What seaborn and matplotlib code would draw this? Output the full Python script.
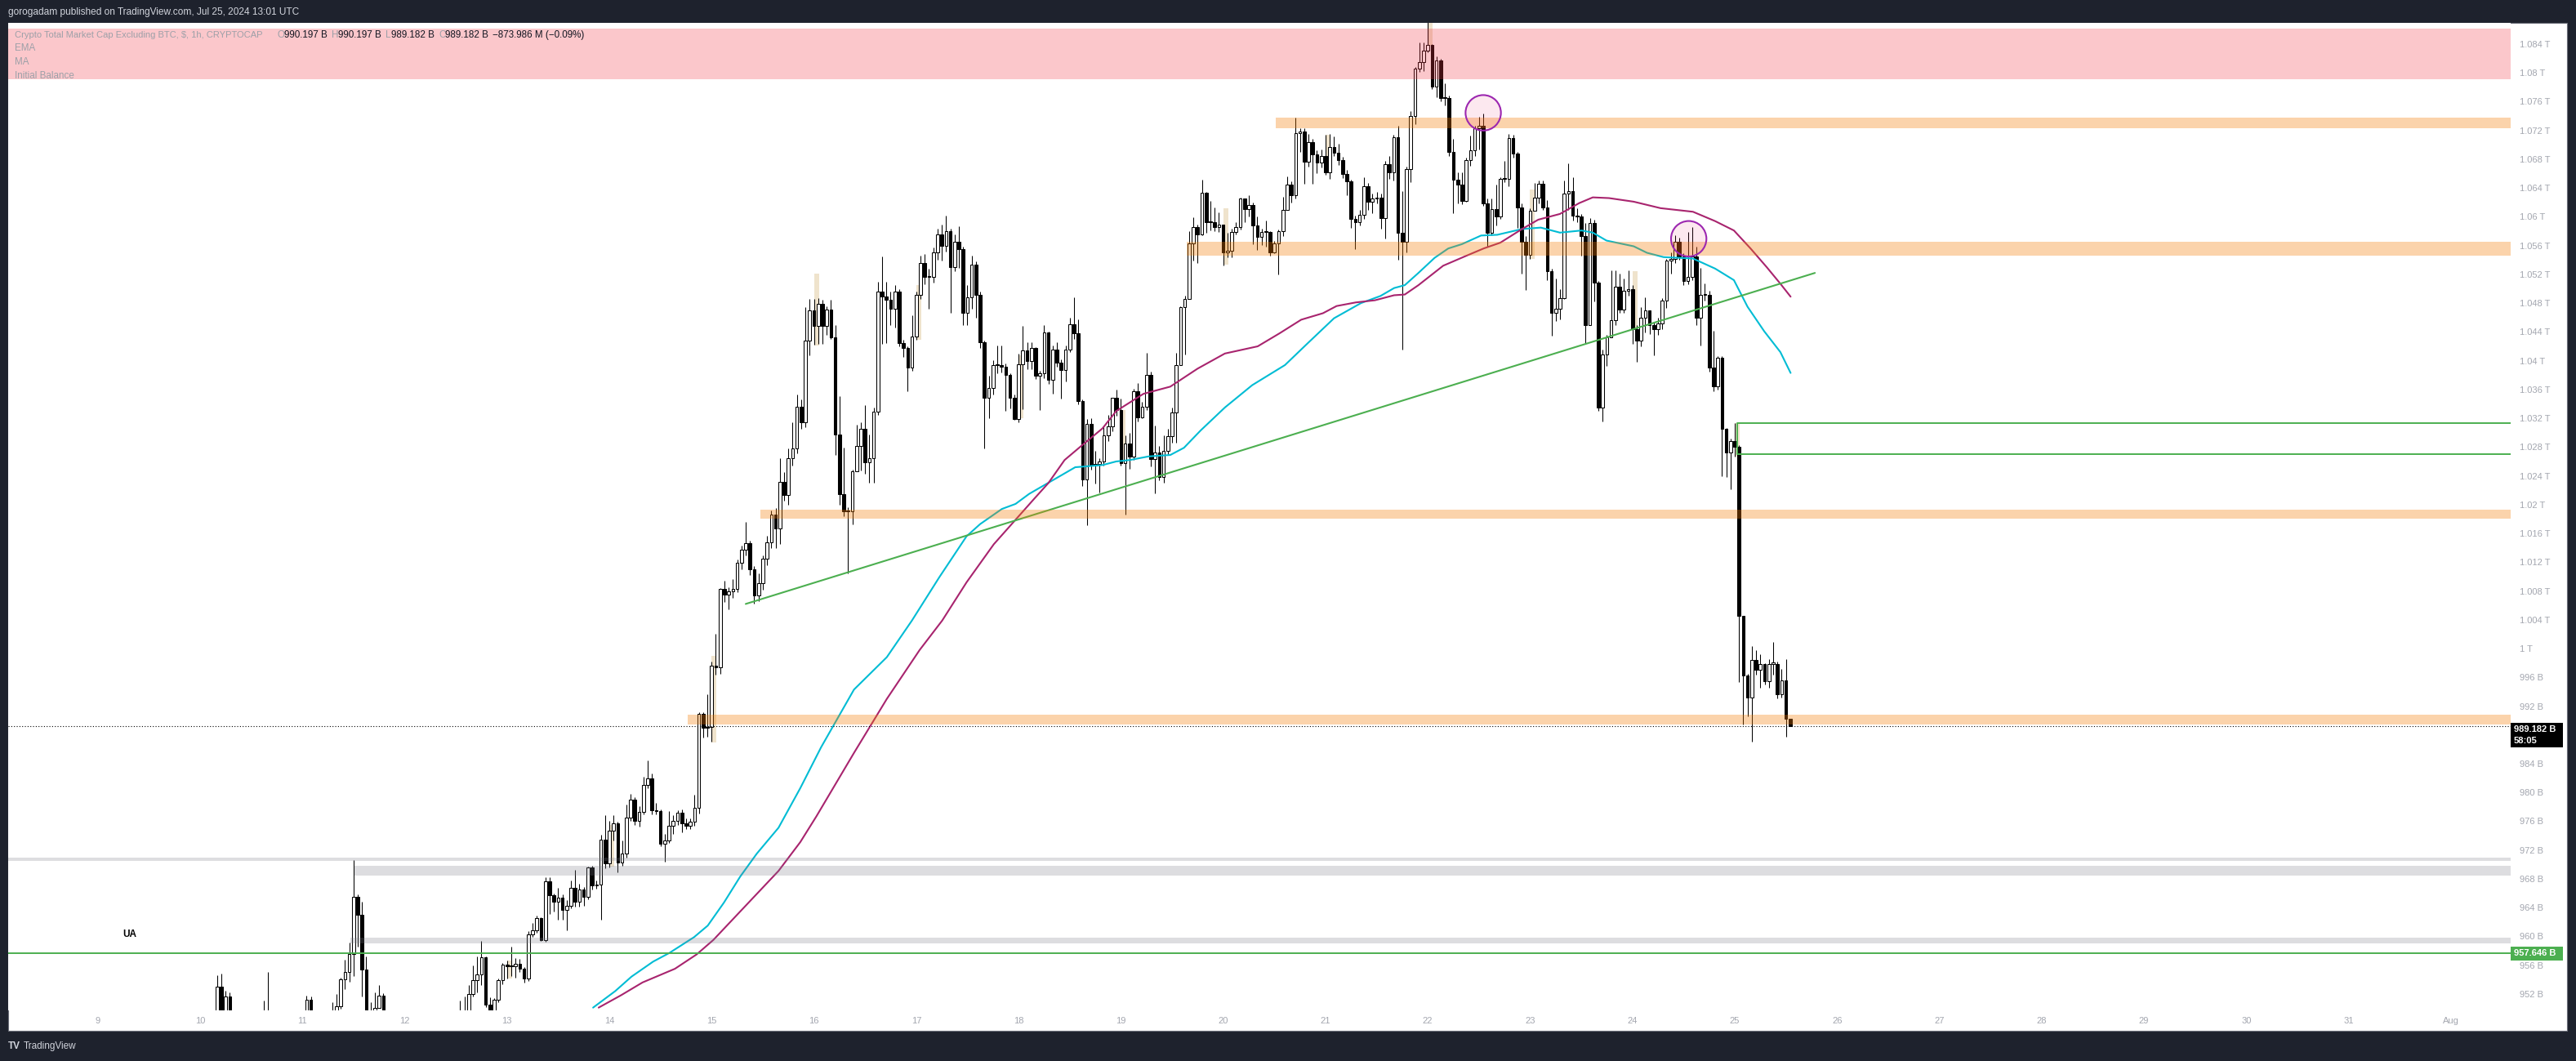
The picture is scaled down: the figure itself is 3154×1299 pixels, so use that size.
import matplotlib
matplotlib.use("Agg")
import numpy as np
import matplotlib.pyplot as plt
from matplotlib.patches import Rectangle, Ellipse
import seaborn as sns

# hourly candles, index = hours since Jul 10 00:00; open = previous close
first_open = 947.0
closes = [
    947.5, 946.8, 947.9, 948.0, 953.0, 948.5, 951.7, 948.0, 947.2, 946.5, 947.3, 946.8, 946.0, 946.9, 947.4, 948.2, 947.6, 946.9, 946.1, 945.7, 946.5, 947.2, 946.8, 947.5,
    948.3, 951.2, 948.0, 947.1, 946.4, 947.0, 947.8, 948.2, 950.3, 954.0, 955.1, 957.6, 965.5, 963.0, 955.4, 948.5, 947.6, 950.1, 951.8, 948.0, 947.3, 946.6, 947.5, 946.9,
    946.2, 945.5, 946.3, 947.0, 946.4, 945.8, 946.7, 947.5, 946.9, 947.8, 948.4, 947.9, 948.6, 948.9, 949.2, 952.0, 953.9, 954.7, 957.1, 950.5, 949.4, 951.2, 953.9, 956.1,
    955.8, 955.9, 956.2, 955.5, 954.2, 960.3, 960.8, 962.5, 959.5, 967.7, 965.7, 964.8, 965.4, 963.7, 964.3, 966.8, 964.8, 966.5, 965.5, 969.6, 967.1, 967.2, 973.4, 970.2,
    974.7, 975.7, 970.3, 971.5, 976.5, 979.0, 976.1, 977.3, 981.1, 981.9, 977.5, 977.4, 972.9, 973.3, 975.4, 976.1, 977.2, 975.7, 975.4, 975.9, 977.9, 990.9, 989.0, 989.1,
    997.6, 997.4, 1008.3, 1007.5, 1007.9, 1008.3, 1011.9, 1013.7, 1014.6, 1011.0, 1007.4, 1009.1, 1012.5, 1014.8, 1018.6, 1016.7, 1023.2, 1021.3, 1026.5, 1027.8, 1033.6, 1031.4, 1042.8, 1047.0,
    1044.8, 1047.9, 1044.8, 1047.1, 1043.2, 1029.7, 1021.5, 1019.1, 1019.1, 1024.6, 1028.1, 1030.5, 1025.9, 1026.4, 1032.9, 1049.6, 1048.9, 1048.5, 1047.2, 1049.6, 1042.5, 1041.8, 1039.1, 1043.4,
    1049.1, 1053.6, 1051.6, 1051.6, 1055.0, 1057.5, 1056.0, 1058.0, 1053.0, 1056.5, 1055.5, 1046.7, 1048.8, 1053.4, 1049.2, 1042.6, 1034.9, 1036.2, 1039.4, 1039.4, 1039.2, 1038.0, 1034.8, 1031.9,
    1039.5, 1041.4, 1040.0, 1041.8, 1037.9, 1038.3, 1043.9, 1037.3, 1041.5, 1039.7, 1038.7, 1041.6, 1045.1, 1043.8, 1034.4, 1023.5, 1031.2, 1025.5, 1025.7, 1026.0, 1029.6, 1030.9, 1034.9, 1033.1,
    1025.8, 1028.5, 1026.7, 1035.8, 1032.1, 1033.6, 1038.0, 1026.3, 1027.2, 1023.8, 1027.5, 1029.5, 1032.8, 1039.4, 1047.5, 1048.6, 1056.3, 1058.6, 1057.5, 1063.3, 1059.2, 1059.2, 1058.6, 1058.9,
    1055.1, 1055.3, 1057.9, 1058.6, 1062.6, 1061.1, 1061.6, 1058.8, 1057.2, 1057.9, 1057.9, 1055.1, 1056.3, 1058.0, 1061.0, 1064.5, 1063.0, 1071.6, 1071.9, 1067.6, 1070.4, 1068.7, 1067.5, 1068.5,
    1066.2, 1069.7, 1068.9, 1067.9, 1066.0, 1064.9, 1059.7, 1059.3, 1060.3, 1064.3, 1062.1, 1062.5, 1062.7, 1059.8, 1067.3, 1066.2, 1071.1, 1057.8, 1056.5, 1066.6, 1074.0, 1080.6, 1081.5, 1083.1,
    1083.9, 1078.1, 1081.7, 1076.5, 1076.5, 1069.0, 1065.1, 1064.5, 1062.2, 1067.9, 1069.2, 1072.3, 1072.6, 1061.9, 1057.8, 1061.1, 1060.0, 1065.3, 1065.3, 1071.0, 1068.8, 1061.3, 1056.5, 1054.7,
    1060.8, 1062.7, 1064.6, 1061.3, 1052.4, 1046.6, 1047.2, 1048.7, 1063.2, 1063.6, 1060.2, 1060.0, 1057.3, 1045.0, 1059.1, 1050.9, 1033.5, 1040.9, 1043.2, 1045.6, 1050.3, 1047.1, 1049.7, 1050.0,
    1044.4, 1042.8, 1046.0, 1047.0, 1044.9, 1044.4, 1045.2, 1048.4, 1053.9, 1054.1, 1056.5, 1054.5, 1051.1, 1051.7, 1054.5, 1046.0, 1049.1, 1049.1, 1039.1, 1036.4, 1040.4, 1030.5, 1027.2, 1028.8,
    1028.0, 1004.6, 996.3, 993.2, 998.4, 997.1, 997.8, 995.5, 997.9, 997.9, 993.7, 995.6, 990.2, 989.182,
]
highs = [
    948.6, 948.0, 948.5, 949.0, 954.6, 954.8, 952.4, 952.2, 948.6, 947.8, 948.0, 947.9, 947.2, 947.5, 948.3, 951.1, 955.0, 948.4, 947.4, 946.8, 947.2, 948.0, 947.9, 948.2,
    949.0, 951.8, 951.7, 948.6, 947.6, 947.9, 948.7, 950.9, 952.0, 954.3, 956.8, 959.1, 970.6, 965.8, 964.8, 957.2, 950.8, 952.2, 953.2, 952.1, 948.8, 948.0, 948.3, 948.1,
    947.5, 946.7, 947.0, 947.8, 947.5, 946.9, 947.3, 948.4, 948.0, 948.6, 949.2, 949.0, 949.4, 951.1, 951.6, 953.2, 956.0, 957.2, 959.4, 957.2, 951.5, 951.4, 954.1, 956.3,
    956.6, 958.6, 957.0, 956.9, 955.7, 960.7, 961.9, 962.9, 962.7, 968.2, 968.2, 965.9, 966.8, 965.8, 965.0, 967.8, 969.2, 967.3, 966.9, 969.7, 969.8, 967.8, 974.1, 976.9,
    976.1, 976.8, 975.9, 973.3, 978.3, 979.8, 979.4, 978.1, 982.2, 984.5, 982.6, 978.6, 977.6, 974.2, 977.4, 976.9, 977.5, 977.6, 976.4, 976.4, 979.7, 991.1, 991.2, 993.6,
    998.2, 1002.1, 1008.4, 1009.4, 1008.5, 1009.6, 1012.4, 1014.3, 1017.6, 1015.0, 1011.5, 1010.4, 1013.0, 1015.7, 1019.2, 1019.5, 1026.4, 1024.5, 1027.8, 1031.5, 1035.3, 1034.6, 1047.4, 1048.6,
    1048.6, 1048.7, 1048.5, 1047.6, 1048.5, 1044.9, 1035.1, 1027.9, 1019.6, 1024.9, 1031.1, 1031.5, 1033.8, 1029.7, 1033.5, 1051.0, 1054.5, 1051.0, 1049.6, 1050.5, 1050.0, 1042.9, 1042.0, 1046.3,
    1049.6, 1054.6, 1054.8, 1052.8, 1055.7, 1058.4, 1058.9, 1060.2, 1058.4, 1057.6, 1058.7, 1055.8, 1050.5, 1054.6, 1053.8, 1049.6, 1042.8, 1037.9, 1040.1, 1042.1, 1042.1, 1039.6, 1038.3, 1035.3,
    1041.0, 1044.8, 1042.6, 1042.6, 1041.9, 1038.6, 1045.0, 1044.1, 1042.1, 1042.6, 1040.2, 1042.1, 1046.0, 1048.8, 1045.8, 1034.6, 1031.9, 1032.0, 1027.5, 1026.5, 1030.9, 1032.5, 1034.9, 1036.0,
    1034.7, 1029.6, 1030.0, 1036.1, 1036.9, 1034.3, 1041.1, 1038.5, 1031.0, 1028.2, 1029.6, 1030.5, 1033.5, 1041.1, 1047.6, 1049.0, 1058.0, 1059.9, 1058.9, 1065.2, 1063.4, 1062.2, 1061.3, 1060.6,
    1058.7, 1057.8, 1058.3, 1059.3, 1062.7, 1062.6, 1063.0, 1062.0, 1060.0, 1058.4, 1059.5, 1058.0, 1056.6, 1058.2, 1062.8, 1065.6, 1064.9, 1073.8, 1072.3, 1072.3, 1071.5, 1070.8, 1069.2, 1069.3,
    1071.4, 1071.5, 1071.2, 1070.2, 1068.3, 1066.5, 1065.1, 1060.2, 1061.0, 1065.5, 1064.7, 1063.2, 1063.5, 1063.2, 1067.8, 1068.4, 1071.4, 1072.7, 1063.6, 1067.0, 1074.7, 1080.8, 1084.2, 1084.2,
    1087.2, 1084.0, 1082.3, 1082.0, 1078.5, 1076.9, 1070.8, 1066.2, 1066.2, 1068.2, 1071.3, 1072.7, 1073.9, 1074.4, 1062.6, 1062.6, 1064.5, 1065.5, 1067.8, 1071.5, 1071.4, 1069.0, 1061.9, 1057.3,
    1061.2, 1064.7, 1065.0, 1065.0, 1062.3, 1052.8, 1051.4, 1050.0, 1065.0, 1067.4, 1065.5, 1061.2, 1060.4, 1059.1, 1059.8, 1059.6, 1051.1, 1041.6, 1043.6, 1052.6, 1052.6, 1052.1, 1051.4, 1052.6,
    1050.5, 1044.9, 1047.4, 1048.8, 1047.0, 1045.3, 1046.0, 1048.7, 1054.2, 1055.0, 1057.4, 1057.1, 1054.9, 1057.9, 1058.6, 1055.9, 1052.9, 1050.7, 1049.7, 1044.2, 1040.6, 1040.6, 1030.6, 1029.2,
    1031.3, 1028.3, 1004.6, 996.5, 1000.3, 999.8, 999.2, 998.0, 998.5, 1000.9, 998.2, 997.2, 998.5, 990.197,
]
lows = [
    946.2, 945.9, 946.3, 947.0, 947.6, 947.9, 948.0, 947.5, 946.1, 945.6, 946.0, 945.8, 944.9, 945.5, 946.2, 947.0, 947.0, 946.0, 945.2, 944.6, 945.3, 946.0, 945.9, 946.4,
    947.0, 947.8, 947.2, 946.3, 945.5, 945.9, 946.6, 947.2, 947.8, 949.9, 952.7, 953.7, 954.5, 958.6, 951.6, 947.3, 946.5, 947.0, 950.1, 947.2, 946.4, 945.6, 946.2, 946.0,
    945.0, 944.4, 945.1, 945.9, 945.6, 944.8, 945.4, 946.3, 946.0, 946.5, 947.3, 947.0, 947.4, 947.9, 948.0, 948.8, 951.6, 952.2, 953.2, 950.2, 948.3, 949.0, 950.8, 953.3,
    954.1, 954.5, 954.3, 955.1, 953.6, 953.8, 959.9, 960.5, 959.4, 959.3, 963.1, 963.5, 962.3, 962.3, 960.9, 963.9, 964.1, 964.1, 964.2, 965.2, 966.5, 966.6, 962.3, 969.5,
    969.6, 973.3, 968.9, 969.8, 971.0, 976.0, 975.5, 975.3, 977.0, 980.6, 977.0, 977.0, 972.5, 970.4, 973.0, 974.2, 975.5, 974.5, 974.9, 974.9, 975.4, 977.1, 987.6, 987.8,
    987.1, 996.4, 996.5, 1006.5, 1005.4, 1007.0, 1007.8, 1011.0, 1012.9, 1010.2, 1006.3, 1006.6, 1008.2, 1011.6, 1014.0, 1014.0, 1014.5, 1020.5, 1020.0, 1025.4, 1027.1, 1030.5, 1030.8, 1040.8,
    1042.2, 1042.3, 1042.3, 1043.6, 1043.0, 1026.9, 1020.0, 1018.4, 1010.5, 1017.2, 1024.6, 1024.8, 1024.3, 1023.1, 1023.1, 1032.5, 1042.3, 1042.4, 1045.0, 1044.6, 1042.0, 1040.5, 1035.8, 1038.6,
    1042.9, 1048.6, 1050.6, 1047.2, 1050.9, 1054.0, 1053.9, 1055.2, 1046.7, 1052.5, 1052.9, 1044.9, 1045.0, 1047.2, 1046.0, 1041.8, 1027.8, 1032.0, 1035.3, 1038.3, 1038.4, 1033.0, 1033.4, 1031.8,
    1031.5, 1033.3, 1038.8, 1038.8, 1037.5, 1033.1, 1037.6, 1036.8, 1035.4, 1039.2, 1034.7, 1037.1, 1041.2, 1043.0, 1033.9, 1022.6, 1017.1, 1024.9, 1022.9, 1021.7, 1025.4, 1028.8, 1030.2, 1032.4,
    1025.4, 1018.6, 1025.0, 1026.2, 1031.6, 1032.0, 1033.2, 1025.3, 1021.6, 1023.4, 1023.0, 1027.0, 1028.6, 1028.6, 1040.8, 1040.9, 1048.8, 1053.9, 1053.6, 1057.4, 1057.8, 1058.1, 1058.0, 1057.9,
    1053.2, 1054.4, 1054.4, 1057.5, 1058.2, 1059.2, 1060.0, 1056.2, 1055.4, 1056.1, 1055.8, 1054.6, 1054.9, 1052.0, 1057.3, 1061.0, 1062.0, 1062.5, 1069.0, 1064.6, 1067.0, 1064.6, 1066.1, 1066.9,
    1065.8, 1065.3, 1068.4, 1067.2, 1065.4, 1063.0, 1058.5, 1055.5, 1058.8, 1059.7, 1061.0, 1060.5, 1061.9, 1058.3, 1057.0, 1065.3, 1065.0, 1054.0, 1041.6, 1055.1, 1064.8, 1072.9, 1080.1, 1080.2,
    1082.9, 1077.7, 1076.6, 1076.0, 1075.5, 1068.5, 1060.5, 1061.9, 1061.8, 1062.1, 1067.1, 1068.5, 1069.4, 1061.5, 1055.9, 1057.4, 1058.8, 1059.7, 1064.8, 1064.2, 1068.2, 1058.5, 1052.1, 1049.8,
    1054.2, 1061.0, 1061.9, 1061.0, 1051.2, 1043.5, 1045.5, 1045.8, 1048.6, 1061.0, 1059.5, 1059.2, 1054.6, 1042.5, 1045.0, 1048.2, 1033.0, 1031.6, 1039.3, 1043.2, 1045.0, 1046.7, 1046.6, 1049.0,
    1042.3, 1039.9, 1042.0, 1043.9, 1043.7, 1040.7, 1043.6, 1044.4, 1047.3, 1052.1, 1053.6, 1054.0, 1050.5, 1050.6, 1051.2, 1045.0, 1042.1, 1048.4, 1038.5, 1035.8, 1036.0, 1023.9, 1023.8, 1022.1,
    1026.7, 995.3, 989.5, 990.6, 987.1, 996.4, 994.5, 995.0, 994.6, 996.4, 993.1, 993.2, 987.7, 989.182,
]

# indicator lines (hour, value)
ema_hours = [92.2, 97.4, 101.2, 106.3, 110.1, 115.9, 119.1, 122.9, 126.7, 130.6, 135.7, 140.8, 145.7, 153.4, 161.1, 167.0,
             173.4, 179.8, 183.0, 188.1, 191.3, 194.5, 198.3, 202.1, 205.3, 211.7, 214.9, 218.1, 222.5, 227.6, 230.8, 234.7,
             240.4, 246.8, 254.5, 259.6, 266.0, 272.3, 276.9, 280.1, 282.6, 285.8, 289.6, 292.8, 296.0, 300.5, 304.3, 310.1,
             314.5, 319.0, 324.1, 326.7, 329.9, 336.3, 339.4, 343.3, 350.2, 355.4, 359.8, 363.0, 366.9, 370.7, 373.1]
ema_vals = [950.1, 952.4, 954.4, 956.5, 957.7, 959.9, 961.5, 964.7, 968.3, 971.5, 975.1, 980.6, 986.3, 994.3, 998.8, 1003.9,
            1009.9, 1015.6, 1017.3, 1019.4, 1020.1, 1021.5, 1022.8, 1024.1, 1025.2, 1025.5, 1026.0, 1026.2, 1026.7, 1026.9, 1027.9, 1030.3,
            1033.5, 1036.6, 1039.4, 1042.3, 1045.9, 1048.0, 1049.0, 1050.1, 1050.5, 1052.2, 1054.3, 1055.6, 1056.2, 1057.4, 1057.5, 1058.3,
            1058.5, 1057.8, 1058.1, 1057.8, 1056.7, 1055.9, 1055.0, 1054.4, 1054.2, 1052.8, 1051.2, 1047.5, 1044.1, 1041.2, 1038.3]
ma_hours = [93.5, 98.7, 103.8, 111.4, 116.5, 120.4, 125.5, 130.6, 135.7, 140.8, 144.6, 153.4, 161.1, 168.8, 174.1, 179.8,
            186.2, 190.7, 195.8, 199.0, 202.8, 206.6, 211.7, 214.9, 221.3, 227.6, 234.0, 240.4, 248.1, 253.2, 258.3, 263.4,
            266.6, 271.1, 275.6, 280.1, 282.6, 285.8, 291.6, 296.7, 301.1, 305.0, 310.1, 313.9, 319.0, 323.5, 326.7, 330.5,
            336.3, 342.6, 350.2, 355.4, 359.8, 363.7, 367.5, 370.7, 373.1]
ma_vals = [950.1, 951.8, 953.6, 955.5, 957.5, 959.5, 962.7, 965.9, 969.1, 973.1, 976.7, 985.5, 993.0, 999.8, 1003.9, 1009.2,
           1014.5, 1017.5, 1020.9, 1023.0, 1026.2, 1028.1, 1030.6, 1033.0, 1035.4, 1036.4, 1038.9, 1041.0, 1042.0, 1043.8, 1045.7, 1046.6,
           1047.6, 1048.1, 1048.4, 1049.1, 1049.2, 1050.5, 1053.2, 1054.5, 1055.6, 1056.4, 1058.3, 1059.6, 1060.4, 1061.9, 1062.7, 1062.6,
           1062.1, 1061.2, 1060.7, 1059.4, 1058.1, 1055.6, 1053.0, 1050.7, 1048.9]

# drawings: (start hour, low, high)
pink_zone = (-45, 1079.15, 1086.16)
orange_zones = [(252.3, 1072.35, 1073.75), (231.5, 1054.55, 1056.55), (131.4, 1018.05, 1019.35), (114.4, 989.5, 990.85)]
grey_zones = [(-45, 970.5, 970.95), (36.3, 968.4, 969.8), (35.2, 959.0, 959.8)]
ib_hours = [72, 96, 120, 144, 168, 192, 216, 240, 264, 288, 312, 336, 360]
ib_low = [954.2, 969.7, 987.0, 1042.1, 1042.9, 1032.0, 1025.8, 1053.3, 1066.2, 1083.8, 1054.1, 1044.4, 1026.7]
ib_high = [956.6, 975.5, 999.0, 1052.1, 1050.5, 1040.8, 1033.1, 1061.2, 1071.4, 1087.2, 1063.8, 1052.5, 1031.3]
ib_lines = (360.6, 1027.0, 1031.3)
trend_hours = [128.0, 378.8]
trend_vals = [1006.2, 1052.2]
support_level = 957.646
last_price = 989.182
circle_hours = [301.0, 349.2]
circle_vals = [1074.45, 1056.95]

price_ticks = [1084, 1080, 1076, 1072, 1068, 1064, 1060, 1056, 1052, 1048, 1044, 1040, 1036, 1032, 1028, 1024, 1020,
               1016, 1012, 1008, 1004, 1000, 996, 992, 988, 984, 980, 976, 972, 968, 964, 960, 956, 952]
price_labels = ["1.084 T", "1.08 T", "1.076 T", "1.072 T", "1.068 T", "1.064 T", "1.06 T", "1.056 T", "1.052 T",
                "1.048 T", "1.044 T", "1.04 T", "1.036 T", "1.032 T", "1.028 T", "1.024 T", "1.02 T", "1.016 T",
                "1.012 T", "1.008 T", "1.004 T", "1 T", "996 B", "992 B", "988 B", "984 B", "980 B", "976 B",
                "972 B", "968 B", "964 B", "960 B", "956 B", "952 B"]
day_ticks = [-24, 0, 24, 48, 72, 96, 120, 144, 168, 192, 216, 240, 264, 288, 312, 336, 360, 384, 408, 432, 456, 480, 504, 528]
day_labels = ["9", "10", "11", "12", "13", "14", "15", "16", "17", "18", "19", "20", "21", "22", "23", "24", "25",
              "26", "27", "28", "29", "30", "31", "Aug"]

sns.set_style("white")
plt.rcParams['font.family'] = ['Liberation Sans', 'DejaVu Sans']

W, H = 3154, 1299
X_LEFT, X_RIGHT = -45, 542
fig = plt.figure(figsize=(W / 100, H / 100), dpi=100, facecolor='#1e222d')


def fx(px):
    return px / W


def fy(py):
    return 1 - py / H


# white chart panel
fig.patches.append(Rectangle((fx(10), fy(1262)), fx(3133), 1234 / H, transform=fig.transFigure,
                             facecolor='white', edgecolor='#6a6d78', lw=0.8, zorder=-1))
ax = fig.add_axes([fx(10), fy(1237), fx(3064), 1209 / H])
ax.set_facecolor('white')

# candles
hours = np.arange(len(closes))
c = np.array(closes)
o = np.array([first_open] + closes[:-1])
hi = np.array(highs)
lo = np.array(lows)
up = c >= o
ax.vlines(hours, lo, hi, color='black', lw=0.75, zorder=2)
body_lo = np.minimum(o, c)
body_h = np.maximum(np.abs(c - o), 0.12)
ax.bar(hours[up], body_h[up], bottom=body_lo[up], width=0.7, color='white',
       edgecolor='black', linewidth=0.75, zorder=2.2)
ax.bar(hours[~up], body_h[~up], bottom=body_lo[~up], width=0.7, color='black',
       edgecolor='black', linewidth=0.75, zorder=2.2)

# initial balance highlight of each day's first hour
for t, l, h in zip(ib_hours, ib_low, ib_high):
    ax.add_patch(Rectangle((t, l), 1.15, h - l, facecolor='#efe3cc', lw=0, zorder=1.5))

# moving averages and trend line
sns.lineplot(x=ema_hours, y=ema_vals, ax=ax, color='#00bcd4', linewidth=1.5, sort=False, zorder=3)
sns.lineplot(x=ma_hours, y=ma_vals, ax=ax, color='#a8246e', linewidth=1.5, sort=False, zorder=3)
sns.lineplot(x=trend_hours, y=trend_vals, ax=ax, color='#4caf50', linewidth=1.5, sort=False, zorder=3)

# zones
s, l, h = pink_zone
ax.add_patch(Rectangle((s, l), X_RIGHT - s, h - l, facecolor='#f23645', alpha=0.28, lw=0, zorder=4))
for s, l, h in orange_zones:
    ax.add_patch(Rectangle((s, l), X_RIGHT - s, h - l, facecolor='#f57c00', alpha=0.33, lw=0, zorder=4))
for s, l, h in grey_zones:
    ax.add_patch(Rectangle((s, l), X_RIGHT - s, h - l, facecolor='#787b86', alpha=0.25, lw=0, zorder=4))

# horizontal levels
ax.axhline(support_level, color='#4caf50', lw=1.4, zorder=4)
s, l, h = ib_lines
ax.plot([X_RIGHT, s, s, X_RIGHT], [h, h, l, l], color='#4caf50', lw=1.4, zorder=4)
ax.axhline(last_price, color='black', lw=0.8, ls=(0, (1, 2)), zorder=3)

for t, v in zip(circle_hours, circle_vals):
    ax.add_patch(Ellipse((t, v), 8.3, 4.93, facecolor=(0.914, 0.118, 0.388, 0.1),
                         edgecolor='#9c27b0', lw=1.5, zorder=5))

ax.text(-16.5, 960.3, "UA", fontsize=8.5, fontweight='bold', color='black', ha='center', va='center', zorder=5)

ax.set_xlim(X_LEFT, X_RIGHT)
ax.set_ylim(949.72, 1086.95)
ax.yaxis.tick_right()
ax.set_yticks(price_ticks, labels=price_labels)
ax.set_xticks(day_ticks, labels=day_labels)
ax.tick_params(axis='y', length=0, pad=8, labelsize=8, labelcolor='#a3a6af')
ax.tick_params(axis='x', length=0, pad=6, labelsize=8, labelcolor='#a3a6af')
ax.set_xlabel("")
ax.set_ylabel("")
for sp in ax.spines.values():
    sp.set_visible(False)

# price badges on the axis
fig.patches.append(Rectangle((fx(3074), fy(915)), fx(64), 30 / H, transform=fig.transFigure,
                             facecolor='black', lw=0, zorder=5))
fig.text(fx(3078), fy(893), "989.182 B", color='white', fontsize=8, fontweight='bold', va='center', zorder=6)
fig.text(fx(3078), fy(907), "58:05", color='white', fontsize=8, fontweight='bold', va='center', zorder=6)
fig.patches.append(Rectangle((fx(3074), fy(1176)), fx(64), 17 / H, transform=fig.transFigure,
                             facecolor='#4caf50', lw=0, zorder=5))
fig.text(fx(3078), fy(1167.5), "957.646 B", color='white', fontsize=8, fontweight='bold', va='center', zorder=6)

# header, legend, footer
fig.text(fx(10), fy(15), "gorogadam published on TradingView.com, Jul 25, 2024 13:01 UTC",
         color='#d1d4dc', fontsize=8.6, va='center')
grey_txt, black_txt = '#9da0a8', '#131722'
legend_bits = [(18, "Crypto Total Market Cap Excluding BTC, $, 1h, CRYPTOCAP", grey_txt, 8.0),
               (340, "O", grey_txt, 8.4), (348, "990.197 B", black_txt, 8.4),
               (406, "H", grey_txt, 8.4), (414, "990.197 B", black_txt, 8.4),
               (472, "L", grey_txt, 8.4), (479, "989.182 B", black_txt, 8.4),
               (537, "C", grey_txt, 8.4), (545, "989.182 B", black_txt, 8.4),
               (603, "\u2212873.986 M (\u22120.09%)", black_txt, 8.4)]
for px, txt, col, size in legend_bits:
    fig.text(fx(px), fy(42.7), txt, color=col, fontsize=size, va='center', zorder=6)
for py, txt in [(59.3, "EMA"), (76, "MA"), (92.7, "Initial Balance")]:
    fig.text(fx(18), fy(py), txt, color=grey_txt, fontsize=8.4, va='center', zorder=6)

fig.text(fx(10), fy(1281), "TV", color='#d1d4dc', fontsize=8.5, fontweight='bold', va='center')
fig.text(fx(29), fy(1281), "TradingView", color='#d1d4dc', fontsize=8.5, va='center')

fig.savefig("out.png", dpi=100, facecolor=fig.get_facecolor())
